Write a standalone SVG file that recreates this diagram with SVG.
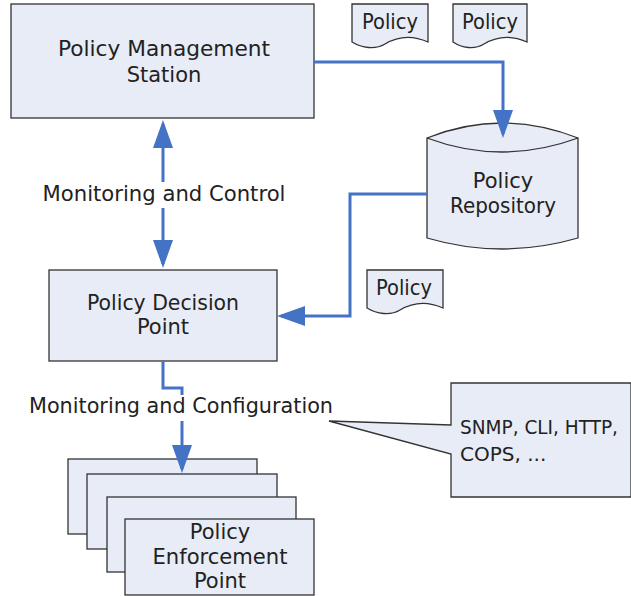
<svg xmlns="http://www.w3.org/2000/svg" width="631" height="596" viewBox="0 0 631 596">
<style>
.box{fill:#e8ecf6;stroke:#333;stroke-width:1.3}
.t{font-family:"DejaVu Sans","Liberation Sans",sans-serif;font-size:21px;fill:#222;text-anchor:middle}
.tl{font-family:"DejaVu Sans","Liberation Sans",sans-serif;font-size:20px;fill:#222}
.c{fill:none;stroke:#4472c4;stroke-width:3}
</style>
<defs>
<marker id="ah" viewBox="0 0 28 20" refX="24" refY="10" markerWidth="28" markerHeight="20" markerUnits="userSpaceOnUse" orient="auto">
<path d="M0,0 L28,10 L0,20 z" fill="#4472c4"/>
</marker>
</defs>
<rect width="631" height="596" fill="#fff"/>

<g id="pms">
<rect class="box" x="11" y="4" width="303" height="114"/>
<text class="t" x="164" y="56" textLength="212" lengthAdjust="spacingAndGlyphs">Policy Management</text>
<text class="t" x="164" y="82">Station</text>
</g>

<g id="doc1">
<path class="box" d="M352,4 H428 V42 C410,34 395,38 385,44 C375,50 362,48 352,42 Z"/>
<text class="t" x="390" y="29" textLength="56" lengthAdjust="spacingAndGlyphs">Policy</text>
</g>
<g id="doc2">
<path class="box" d="M453,4 H527 V42 C509,34 494,38 484,44 C474,50 462,48 453,42 Z"/>
<text class="t" x="490" y="29" textLength="56" lengthAdjust="spacingAndGlyphs">Policy</text>
</g>

<g id="repo">
<path class="box" d="M427,138 Q502,108 578,138 V238 Q502,260 427,238 Z"/>
<path fill="none" stroke="#333" stroke-width="1.3" d="M427,138 Q502,166 578,138"/>
<text class="t" x="503" y="188">Policy</text>
<text class="t" x="503" y="213" textLength="106" lengthAdjust="spacingAndGlyphs">Repository</text>
</g>

<g id="doc3">
<path class="box" d="M367,270 H443 V308 C425,300 410,304 400,310 C390,316 377,314 367,308 Z"/>
<text class="t" x="404" y="295" textLength="56" lengthAdjust="spacingAndGlyphs">Policy</text>
</g>

<g id="pdp">
<rect class="box" x="49" y="270" width="228" height="91"/>
<text class="t" x="163" y="310" textLength="152" lengthAdjust="spacingAndGlyphs">Policy Decision</text>
<text class="t" x="163" y="334">Point</text>
</g>

<g id="pep">
<rect class="box" x="68" y="459" width="189" height="75"/>
<rect class="box" x="87" y="474" width="190" height="75"/>
<rect class="box" x="107" y="497" width="189" height="75"/>
<rect class="box" x="125" y="519" width="189" height="76"/>
<text class="t" x="220" y="539">Policy</text>
<text class="t" x="220" y="564" textLength="135" lengthAdjust="spacingAndGlyphs">Enforcement</text>
<text class="t" x="220" y="588">Point</text>
</g>

<g id="callout">
<path class="box" d="M451,383 H631 V497 H451 V454 L329,421 L451,425 Z"/>
<text class="tl" x="460" y="434" textLength="158" lengthAdjust="spacingAndGlyphs">SNMP, CLI, HTTP,</text>
<text class="tl" x="460" y="461">COPS, ...</text>
</g>

<g id="connectors">
<path class="c" d="M163,182 V124" marker-end="url(#ah)"/>
<path class="c" d="M163,208 V264" marker-end="url(#ah)"/>
<path class="c" d="M314,62 H503 V134" marker-end="url(#ah)"/>
<path class="c" d="M428,194 H350 V316 H281" marker-end="url(#ah)"/>
<path class="c" d="M163,361 V388 H182 V395"/>
<path class="c" d="M182,421 V469" marker-end="url(#ah)"/>
</g>

<g id="labels">
<text class="t" x="164" y="201" textLength="243" lengthAdjust="spacingAndGlyphs">Monitoring and Control</text>
<text class="t" x="181" y="413" textLength="304" lengthAdjust="spacingAndGlyphs">Monitoring and Configuration</text>
</g>
</svg>
